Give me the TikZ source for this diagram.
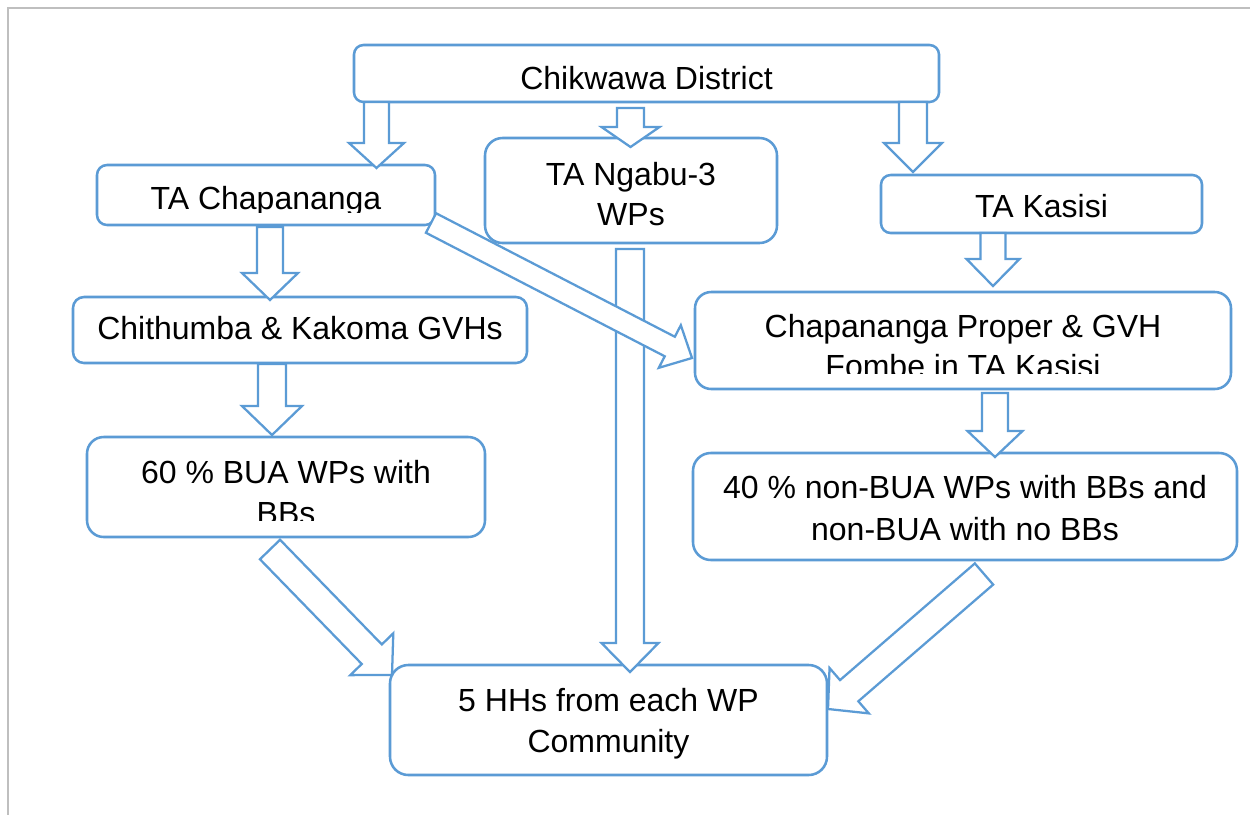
\documentclass[tikz,border=0pt]{standalone}
\usepackage{fontspec}
\setmainfont{Liberation Sans}
\usetikzlibrary{calc}
\definecolor{flowblue}{RGB}{91,155,213}
\definecolor{pagegray}{RGB}{191,191,191}

% rounded box from its corner coordinates: name, x1, y1, x2, y2
\newcommand{\mkbox}[5]{%
  \pgfmathsetmacro\bw{(#4-#2)*0.75}%
  \pgfmathsetmacro\bh{(#5-#3)*0.75}%
  \pgfmathsetmacro\br{min(\bw,\bh)/6}%
  \node[box, minimum width=\bw pt, minimum height=\bh pt, rounded corners=\br pt]
    (#1) at ({(#2+#4)/2},{(#3+#5)/2}) {};}

% outlined block arrow: tail, tip, half shaft width, half head width, head length
\newcommand{\blockarr}[5]{%
  \coordinate (ba-base) at ($(#2)!#5*0.75pt!(#1)$);
  \draw[blockline]
    ($(#1)!#3*0.75pt!90:(#2)$) -- ($(ba-base)!#3*0.75pt!90:(#2)$)
    -- ($(ba-base)!#4*0.75pt!90:(#2)$) -- (#2)
    -- ($(ba-base)!#4*0.75pt!-90:(#2)$) -- ($(ba-base)!#3*0.75pt!-90:(#2)$)
    -- ($(#1)!#3*0.75pt!-90:(#2)$) -- cycle;}

\begin{document}
\begin{tikzpicture}[x=0.75pt,y=-0.75pt,
  box/.style={draw=flowblue, line width=1.9pt, fill=white, inner sep=0pt, outer sep=0pt},
  lbl/.style={font=\fontsize{24}{30}\selectfont, inner sep=0pt, anchor=base, text=black},
  blockline/.style={draw=flowblue, line width=1.7pt, fill=white, line join=miter},
  pageedge/.style={draw=pagegray, line width=1.6pt}]

\useasboundingbox (0,0) rectangle (1250,815);
\fill[white] (0,0) rectangle (1250,815);

% page edges
\draw[pageedge] (7,8) -- (1250,8);
\draw[pageedge] (8,8) -- (8,815);

% boxes
\mkbox{chik}{354}{45}{939}{102}
\mkbox{tachap}{97}{165}{435}{225}
\mkbox{ngabu}{485}{138}{777}{243}
\mkbox{kasisi}{881}{175}{1202}{233}
\mkbox{chith}{73}{297}{527}{363}
\mkbox{cpgvh}{695}{292}{1231}{389}
\mkbox{bua}{87}{437}{485}{537}
\mkbox{nonbua}{693}{453}{1237}{560}
\mkbox{hh}{390}{665}{827}{775}

% labels
\node[lbl] (chikT) at (646.5,89) {Chikwawa District};
\begin{scope}
  \clip (97,165) rectangle (435,212);
  \node[lbl] (tachapT) at (266,209) {TA Chapananga};
\end{scope}
\node[lbl] (ngabuT1) at (631,185) {TA Ngabu-3};
\node[lbl] (ngabuT2) at (631,225) {WPs};
\node[lbl] (kasisiT) at (1041.5,217) {TA Kasisi};
\node[lbl] (chithT) at (300,339) {Chithumba \& Kakoma GVHs};
\node[lbl] (cpgvhT1) at (963,337) {Chapananga Proper \& GVH};
\begin{scope}
  \clip (695,292) rectangle (1231,373);
  \node[lbl] (cpgvhT2) at (963,377) {Fombe in TA Kasisi};
\end{scope}
\node[lbl] (buaT1) at (286,483) {60 \% BUA WPs with};
\begin{scope}
  \clip (87,437) rectangle (485,520);
  \node[lbl] (buaT2) at (286,524) {BBs};
\end{scope}
\node[lbl] (nonbuaT1) at (965,498) {40 \% non-BUA WPs with BBs and};
\node[lbl] (nonbuaT2) at (965,540) {non-BUA with no BBs};
\node[lbl] (hhT1) at (608.5,711) {5 HHs from each WP};
\node[lbl] (hhT2) at (608.5,752) {Community};

% arrow ends
\coordinate (a1t) at (376.5,102);  \coordinate (a1h) at (376.5,168);
\coordinate (a2t) at (630.5,108);  \coordinate (a2h) at (630.5,147);
\coordinate (a3t) at (913,102);    \coordinate (a3h) at (913,172);
\coordinate (a4t) at (270,227);    \coordinate (a4h) at (270,300);
\coordinate (a6t) at (630,249);    \coordinate (a6h) at (630,672);
\coordinate (a7t) at (993,233);    \coordinate (a7h) at (993,286);
\coordinate (a8t) at (272,364);    \coordinate (a8h) at (272,435);
\coordinate (a9t) at (995,393);    \coordinate (a9h) at (995,457);
\coordinate (a5t) at (431,223);    \coordinate (a5h) at (692,358);
\coordinate (a10t) at (270,549.5); \coordinate (a10h) at (392,675);
\coordinate (a11t) at (984,574);   \coordinate (a11h) at (828,709);

% block arrows
\blockarr{a1t}{a1h}{12.5}{27.5}{25}
\blockarr{a2t}{a2h}{13.5}{29}{20}
\blockarr{a3t}{a3h}{14}{29}{29}
\blockarr{a4t}{a4h}{13}{28}{27}
\blockarr{a6t}{a6h}{14}{28.5}{29}
\blockarr{a7t}{a7h}{12.5}{26.5}{27}
\blockarr{a8t}{a8h}{14}{30}{29}
\blockarr{a9t}{a9h}{13}{27.5}{26}
\blockarr{a5t}{a5h}{11}{24}{25}
\blockarr{a10t}{a10h}{14}{30}{29}
\blockarr{a11t}{a11h}{14}{30}{28}

\end{tikzpicture}
\end{document}
